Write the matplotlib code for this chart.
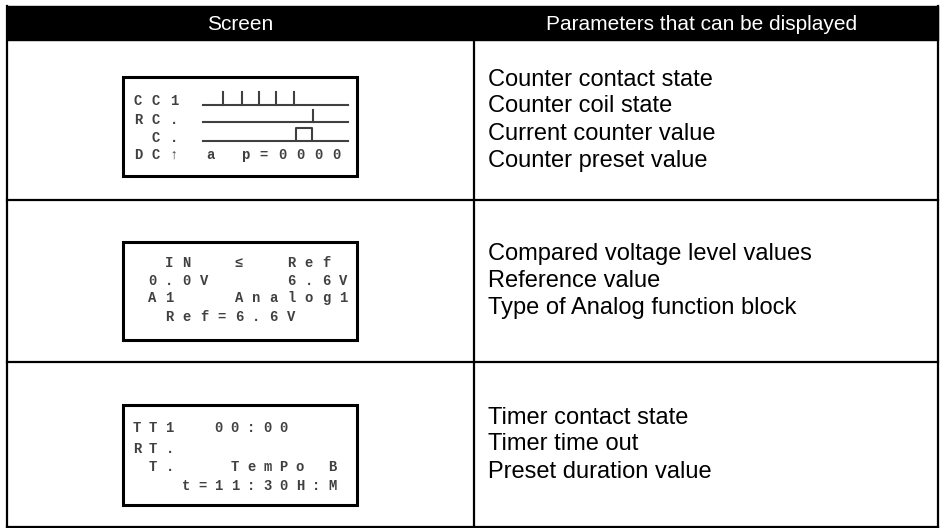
import matplotlib
matplotlib.use("Agg")
import matplotlib.pyplot as plt
from matplotlib.patches import Rectangle

# table content
headers = ["Screen", "Parameters that can be displayed"]
params = [
    ["Counter contact state", "Counter coil state", "Current counter value", "Counter preset value"],
    ["Compared voltage level values", "Reference value", "Type of Analog function block"],
    ["Timer contact state", "Timer time out", "Preset duration value"],
]

# LCD screens (text lines as shown on the display)
lcd_lines = [
    ["CC1", "RC.", " C.", "DC\u2191 a p=0000"],
    [" IN  \u2264  Ref", "0.0V    6.6V", "A1   Analog1", " Ref=6.6V"],
    ["TT1  00:00", "RT.", " T.   TemPo B", "   t=11:30H:M"],
]
lcd_x0 = [138, 152, 137]
lcd_pitch = [18.0, 17.4, 16.3]
lcd_rows_y = [[101, 120, 138, 155], [263, 281, 298, 317], [428, 449, 467, 486]]

# counter timing diagram (screen 1)
trace_y = [105, 122, 141]
trace_x = [203, 348]
contact_pulses = [223, 242, 259, 276, 294]
coil_pulse = 313
value_pulse = [296, 312]

# layout (pixels)
W, H = 941, 528
left, right, col = 7, 938, 474
head_top, head_bot = 6, 40
row_lines = [40, 200, 362, 527]
box_x = [123, 357]
box_y = [(77, 176), (242, 340), (405, 505)]

fig = plt.figure(figsize=(W / 100, H / 100), dpi=100)
ax = fig.add_axes([0, 0, 1, 1])
ax.set_xlim(0, W)
ax.set_ylim(H, 0)
ax.axis("off")

# header bar
ax.add_patch(Rectangle((left, head_top), right - left, head_bot - head_top, color="black"))
ax.text((left + col) / 2, (head_top + head_bot) / 2 + 1, headers[0], color="white",
        fontsize=15, family="Liberation Sans", ha="center", va="center")
ax.text((col + right) / 2 - 4, (head_top + head_bot) / 2 + 1, headers[1], color="white",
        fontsize=15, family="Liberation Sans", ha="center", va="center")

# grid lines
lw = 1.6
ax.plot([left, left], [head_top, row_lines[-1]], color="black", lw=lw)
ax.plot([right, right], [head_top, row_lines[-1]], color="black", lw=lw)
ax.plot([col, col], [head_bot, row_lines[-1]], color="black", lw=lw)
for y in row_lines[1:]:
    ax.plot([left, right], [y, y], color="black", lw=lw)

# parameter text
for i, lines in enumerate(params):
    yc = (row_lines[i] + row_lines[i + 1]) / 2
    n = len(lines)
    for j, s in enumerate(lines):
        y = yc + (j - (n - 1) / 2) * 27
        ax.text(488, y, s, fontsize=17, family="Liberation Sans", ha="left", va="center")

# LCD screens
lcd_col = "#404040"
for i in range(3):
    y0, y1 = box_y[i]
    ax.add_patch(Rectangle((box_x[0], y0), box_x[1] - box_x[0], y1 - y0,
                           fill=False, ec="black", lw=2.2))
    for line, y in zip(lcd_lines[i], lcd_rows_y[i]):
        for k, ch in enumerate(line):
            if ch == " ":
                continue
            ax.text(lcd_x0[i] + k * lcd_pitch[i], y, ch, fontsize=10, fontweight="bold",
                    family=["Liberation Mono", "DejaVu Sans Mono"], color=lcd_col,
                    ha="center", va="center")

# timing traces on the counter screen
tl = 1.5
for y in trace_y:
    ax.plot(trace_x, [y, y], color=lcd_col, lw=tl)
for x in contact_pulses:
    ax.plot([x, x], [trace_y[0], trace_y[0] - 13], color=lcd_col, lw=tl)
ax.plot([coil_pulse, coil_pulse], [trace_y[1], trace_y[1] - 12], color=lcd_col, lw=tl)
ax.plot([value_pulse[0], value_pulse[0], value_pulse[1], value_pulse[1]],
        [trace_y[2], trace_y[2] - 13, trace_y[2] - 13, trace_y[2]], color=lcd_col, lw=tl)

fig.savefig("out.png", dpi=100, facecolor="white")
